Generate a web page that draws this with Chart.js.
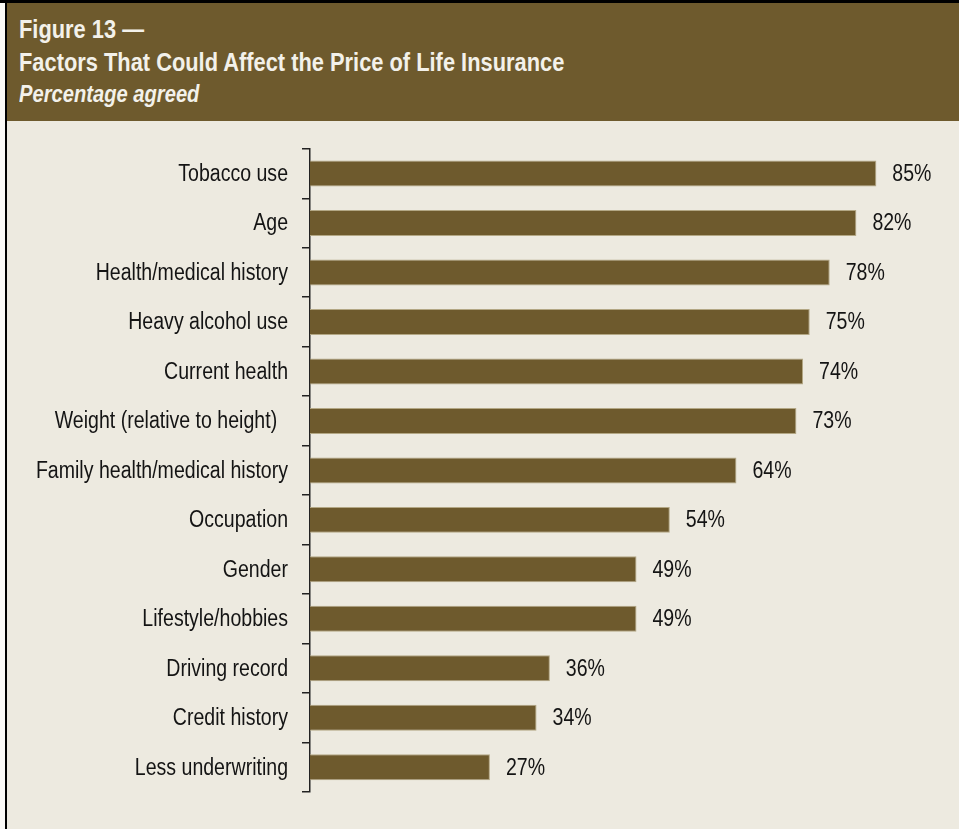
<!DOCTYPE html>
<html>
<head>
<meta charset="utf-8">
<script src="https://cdn.jsdelivr.net/npm/chart.js@4/dist/chart.umd.min.js"></script>
<style>
    body { margin: 0; background: #fbfaf7; }
    #frame { position: absolute; left: 0; top: 0; width: 959px; height: 829px; background: #edeae0; overflow: hidden; }
    #strip { position: absolute; left: 0; top: 0; width: 5px; height: 829px; background: #fbfaf7; }
    #header { position: absolute; left: 0; top: 0; width: 959px; height: 121px; background: #6e5a2d; color: #f3f1ea; }
    #header div { position: absolute; left: 19px; white-space: nowrap; font-family: "Liberation Sans", Arial, sans-serif; font-weight: bold; transform: scaleX(0.84); transform-origin: 0 0; }
    #fig { top: 16px; font-size: 26px; line-height: 26px; }
    #title { top: 49px; font-size: 26px; line-height: 26px; }
    #sub { top: 82px; font-size: 24px; line-height: 24px; font-style: italic; }
    #edge { position: absolute; left: 0; top: 0; width: 959px; height: 829px; pointer-events: none; z-index: 2; }
    #edge .top { position: absolute; left: 0; top: 0; width: 959px; height: 3px; background: #000; }
    #edge .left { position: absolute; left: 5px; top: 0; width: 2px; height: 829px; background: #000; }
    #box { position: absolute; left: 0; top: 121px; width: 959px; height: 708px; }
</style>
</head>
<body>
<div id="frame">
    <div id="header">
        <div id="fig">Figure 13 —</div>
        <div id="title">Factors That Could Affect the Price of Life Insurance</div>
        <div id="sub">Percentage agreed</div>
    </div>
    <div id="box"><canvas id="factorChart"></canvas></div>
    <div id="strip"></div>
    <div id="edge"><div class="top"></div><div class="left"></div></div>
</div>
<script>
const factors = [
    "Tobacco use",
    "Age",
    "Health/medical history",
    "Heavy alcohol use",
    "Current health",
    "Weight (relative to height)  ",
    "Family health/medical history",
    "Occupation",
    "Gender",
    "Lifestyle/hobbies",
    "Driving record",
    "Credit history",
    "Less underwriting"
];
const agreed = [85, 82, 78, 75, 74, 73, 64, 54, 49, 49, 36, 34, 27];

const labelFont = "23px 'Liberation Sans', Arial, sans-serif";
const squeeze = 0.85;   // no narrow face installed, so condense the regular one
const brown = "#6e5a2d";
const ink = "#141414";

function narrowText(ctx, text, x, y){
    ctx.save();
    ctx.translate(x, y);
    ctx.scale(squeeze, 1);
    ctx.fillText(text, 0, 0);
    ctx.restore();
}

// category names to the left of the axis, condensed
const factorLabels = {
    id: "factorLabels",
    afterDraw(chart){
        const ctx = chart.ctx;
        const y = chart.scales.y;
        const opts = y.options;
        ctx.save();
        ctx.font = labelFont;
        ctx.fillStyle = ink;
        ctx.textAlign = "right";
        ctx.textBaseline = "middle";
        const right = y.right - opts.grid.tickLength - opts.ticks.padding;
        y.ticks.forEach(function(t, i){
            narrowText(ctx, factors[t.value], right, y.getPixelForTick(i) + 1);
        });
        ctx.restore();
    }
};

// writes "NN%" just past the end of each bar
const valueLabels = {
    id: "valueLabels",
    afterDatasetsDraw(chart){
        const ctx = chart.ctx;
        const meta = chart.getDatasetMeta(0);
        ctx.save();
        ctx.font = labelFont;
        ctx.fillStyle = ink;
        ctx.textAlign = "left";
        ctx.textBaseline = "middle";
        meta.data.forEach(function(bar, i){
            narrowText(ctx, agreed[i] + "%", bar.x + 16, bar.y + 1);
        });
        ctx.restore();
    }
};

const factorChart = new Chart(
    document.getElementById("factorChart"),
    {
        type: "bar",
        data: {
            labels: factors,
            datasets: [{
                data: agreed,
                backgroundColor: brown,
                borderColor: "#b3a784",
                borderWidth: 1,
                categoryPercentage: 1,
                barPercentage: 0.525
            }]
        },
        options: {
            indexAxis: "y",
            responsive: true,
            maintainAspectRatio: false,
            animation: false,
            layout: { padding: { top: 26, bottom: 37, right: 16, left: 0 } },
            plugins: {
                legend: { display: false },
                tooltip: { enabled: false }
            },
            scales: {
                x: {
                    display: false,
                    min: 0,
                    max: 95
                },
                y: {
                    afterFit(scale){ scale.width = 310; },
                    grid: {
                        offset: true,
                        drawOnChartArea: false,
                        drawTicks: true,
                        tickLength: 8,
                        color: "#222",
                        lineWidth: 1.5
                    },
                    border: { display: true, color: "#222", width: 1.5 },
                    ticks: {
                        padding: 14,
                        color: "rgba(0,0,0,0)",
                        font: { family: "'Liberation Sans', Arial, sans-serif", size: 23 }
                    }
                }
            }
        },
        plugins: [valueLabels, factorLabels]
    }
);
</script>
</body>
</html>
